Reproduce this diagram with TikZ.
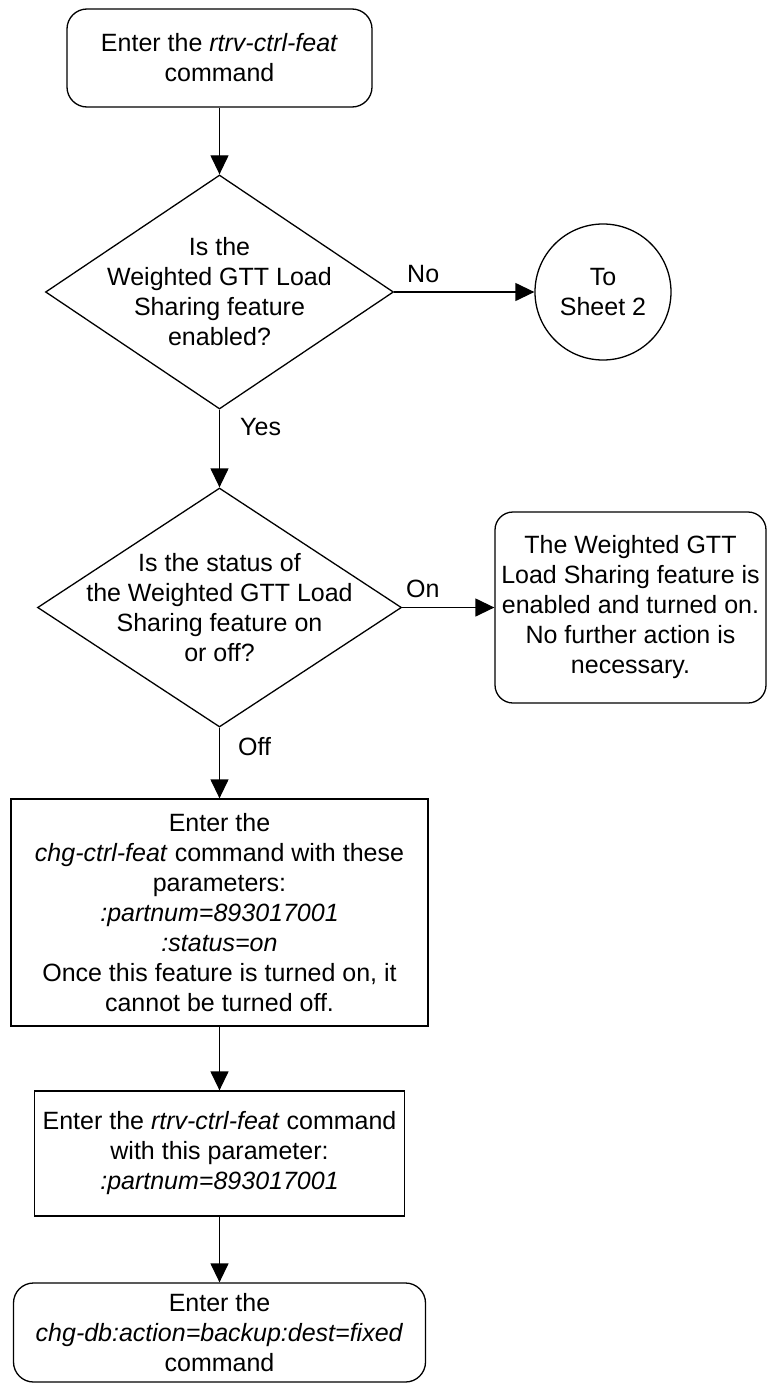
\documentclass[tikz,border=0pt]{standalone}
\usepackage{fontspec}
\setmainfont{Liberation Sans}
\usetikzlibrary{shapes.geometric,arrows.meta}
\begin{document}
\begin{tikzpicture}[x=1pt,y=-1pt,
  every node/.style={font=\fontsize{25}{30}\selectfont, text=black},
  term/.style={draw, line width=1.3pt, rounded corners=20pt, align=center, inner sep=2pt},
  proc/.style={draw, line width=1.3pt, align=center, inner sep=2pt},
  decision/.style={draw, line width=1.3pt, diamond, inner sep=0pt},
  conn/.style={draw, line width=1.3pt, circle, inner sep=0pt, align=center, minimum size=136pt},
  flow/.style={line width=1.3pt, -{Triangle[length=19pt,width=18pt]}},
  lbl/.style={anchor=base west, inner sep=0pt}
]
\useasboundingbox (0,0) rectangle (768,1384);

\node[term, minimum width=305pt, minimum height=98pt] (start) at (219.5,58)
  {Enter the \textit{rtrv-ctrl-feat}\\command};

\node[decision, minimum width=348pt, minimum height=234pt] (d1) at (219.5,292) {};
\node[align=center, inner sep=0pt] (d1t) at (d1.center)
  {Is the\\Weighted GTT Load\\Sharing feature\\enabled?};

\node[conn] (sheet2) at (603,292) {To\\Sheet 2};

\node[decision, minimum width=364pt, minimum height=239pt] (d2) at (219.5,607.5) {};
\node[align=center, inner sep=0pt] (d2t) at (d2.center)
  {Is the status of\\the Weighted GTT Load\\Sharing feature on\\or off?};

\node[term, rounded corners=18pt, minimum width=271pt, minimum height=191pt] (done) at (630.5,607.5)
  {The Weighted GTT\\Load Sharing feature is\\enabled and turned on.\\No further action is\\necessary.};

\node[proc, minimum width=417pt, minimum height=227pt] (chg) at (219.5,912.5)
  {Enter the\\\textit{chg-ctrl-feat} command with these\\parameters:\\\textit{:partnum=893017001}\\\textit{:status=on}\\Once this feature is turned on, it\\cannot be turned off.};

\node[proc, minimum width=370pt, minimum height=125pt] (rtrv) at (219.5,1153.5)
  {Enter the \textit{rtrv-ctrl-feat} command\\with this parameter:\\\textit{:partnum=893017001}};

\node[term, minimum width=412pt, minimum height=99pt] (backup) at (219.5,1332.5)
  {Enter the\\\textit{chg-db:action=backup:dest=fixed}\\command};

\draw[flow] (start) -- (d1);
\draw[flow] (d1.east) -- (sheet2.west);
\draw[flow] (d1.south) -- (d2.north);
\draw[flow] (d2.east) -- (done.west);
\draw[flow] (d2.south) -- (chg.north);
\draw[flow] (chg.south) -- (rtrv.north);
\draw[flow] (rtrv.south) -- (backup.north);

\node[lbl] (no) at (407,282) {No};
\node[lbl] (yes) at (240,435) {Yes};
\node[lbl] (on) at (406,597) {On};
\node[lbl] (off) at (238,755) {Off};
\end{tikzpicture}
\end{document}
